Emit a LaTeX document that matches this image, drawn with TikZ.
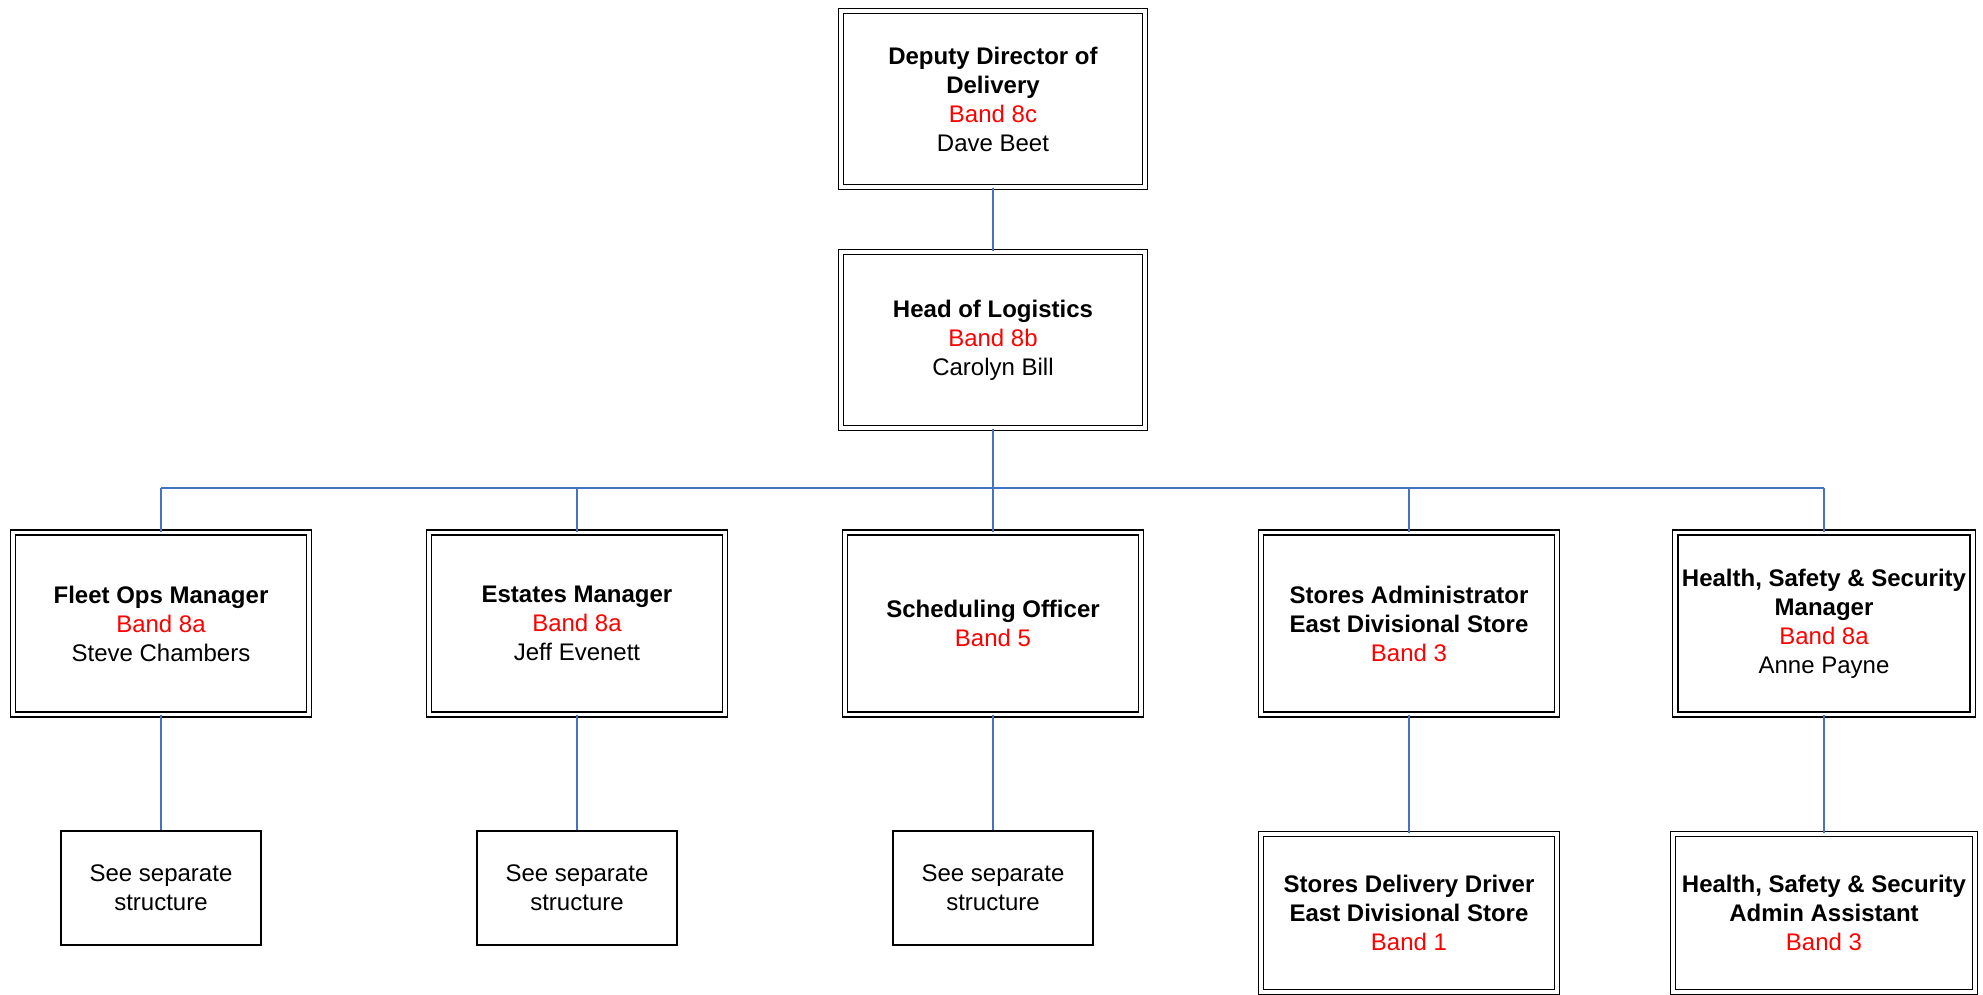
\documentclass[tikz,border=0pt]{standalone}
\usepackage{fontspec}
\setmainfont{Liberation Sans}
\usetikzlibrary{positioning}
\definecolor{linkblue}{RGB}{68,114,196}
\definecolor{bandred}{RGB}{255,0,0}

\begin{document}
\begin{tikzpicture}[x=0.5pt,y=-0.5pt,
    role/.style={draw, line width=0.75pt, double, double distance=1.8pt,
      minimum width=148pt, minimum height=91pt, align=center,
      font=\fontsize{12}{14.5}\selectfont},
    stub/.style={draw, line width=0.8pt, minimum width=100pt, minimum height=57pt,
      align=center, font=\fontsize{12}{14.5}\selectfont},
    link/.style={draw=linkblue, line width=0.9pt}]
  \useasboundingbox (0,0) rectangle (1983,995);

  % Top of the structure
  \node[role, minimum width=152pt, minimum height=88pt] (dep) at (993,99)
    {\textbf{Deputy Director of}\\\textbf{Delivery}\\\textcolor{bandred}{Band 8c}\\Dave Beet};
  \node[role, minimum width=152pt, minimum height=88pt] (head) at (993,340)
    {\textbf{Head of Logistics}\\\textcolor{bandred}{Band 8b}\\Carolyn Bill};

  % Managers row
  \node[role] (fleet) at (161,623.5)
    {\textbf{Fleet Ops Manager}\\\textcolor{bandred}{Band 8a}\\Steve Chambers};
  \node[role] (estates) at (577,623.5)
    {\textbf{Estates Manager}\\\textcolor{bandred}{Band 8a}\\Jeff Evenett};
  \node[role] (sched) at (993,623.5)
    {\textbf{Scheduling Officer}\\\textcolor{bandred}{Band 5}};
  \node[role] (stores) at (1409,623.5)
    {\textbf{Stores Administrator}\\\textbf{East Divisional Store}\\\textcolor{bandred}{Band 3}};
  \node[role] (hss) at (1824,623.5)
    {\textbf{Health, Safety \& Security}\\\textbf{Manager}\\\textcolor{bandred}{Band 8a}\\Anne Payne};

  % Bottom row
  \node[stub] (fleetsep) at (161,888) {See separate\\structure};
  \node[stub] (estatessep) at (577,888) {See separate\\structure};
  \node[stub] (schedsep) at (993,888) {See separate\\structure};
  \node[role, minimum height=79pt] (driver) at (1409,913)
    {\textbf{Stores Delivery Driver}\\\textbf{East Divisional Store}\\\textcolor{bandred}{Band 1}};
  \node[role, minimum width=151pt, minimum height=79pt] (hssadmin) at (1824,913)
    {\textbf{Health, Safety \& Security}\\\textbf{Admin Assistant}\\\textcolor{bandred}{Band 3}};

  % Connectors
  \coordinate (bus) at (993,488);
  \draw[link] (dep) -- (head);
  \draw[link] (head) -- (bus);
  \draw[link] (fleet |- bus) -- (hss |- bus);
  \foreach \n in {fleet,estates,sched,stores,hss}
    \draw[link] (\n |- bus) -- (\n);
  \draw[link] (fleet) -- (fleetsep);
  \draw[link] (estates) -- (estatessep);
  \draw[link] (sched) -- (schedsep);
  \draw[link] (stores) -- (driver);
  \draw[link] (hss) -- (hssadmin);
\end{tikzpicture}
\end{document}
